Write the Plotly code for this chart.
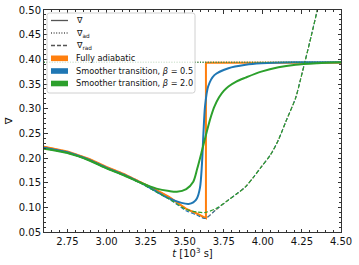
import plotly.graph_objects as go

# ---------------- data ----------------
t_rad = [2.60, 2.75, 2.89, 3.00, 3.11, 3.21, 3.32, 3.40, 3.51, 3.58, 3.63,
         3.70, 3.78, 3.84, 3.89, 3.94, 3.99, 4.05, 4.10, 4.15, 4.21, 4.24, 4.27, 4.31, 4.35, 4.40]
rad_orange = [0.223, 0.213, 0.198, 0.182, 0.168, 0.153, 0.135, 0.121, 0.097, 0.087, 0.078,
              0.095, 0.115, 0.129, 0.142, 0.161, 0.182, 0.207, 0.237, 0.276, 0.322, 0.358,
              0.396, 0.448, 0.502, 0.570]
rad_blue = [0.221, 0.2115, 0.196, 0.180, 0.166, 0.151, 0.131, 0.117, 0.093, 0.084, 0.0775,
            0.095, 0.115, 0.129, 0.142, 0.161, 0.182, 0.207, 0.237, 0.276, 0.322, 0.358,
            0.396, 0.448, 0.502, 0.570]
rad_green = [0.219, 0.210, 0.195, 0.179, 0.165, 0.150, 0.131, 0.117, 0.096, 0.0905, 0.0895,
             0.0975, 0.115, 0.129, 0.142, 0.161, 0.182, 0.207, 0.237, 0.276, 0.322, 0.358,
             0.396, 0.448, 0.502, 0.570]

t_ad = [2.60, 4.50]
ad_orange = [0.394, 0.394]
ad_blue = [0.394, 0.394]
ad_green = [0.394, 0.394]

t_adiab = [2.60, 2.75, 2.89, 3.00, 3.11, 3.21, 3.32, 3.40, 3.51, 3.58, 3.636, 3.636, 3.70, 4.00, 4.50]
nabla_adiab = [0.223, 0.213, 0.198, 0.182, 0.168, 0.153, 0.135, 0.121, 0.097, 0.087, 0.078,
               0.393, 0.393, 0.393, 0.393]

t_b05 = [2.60, 2.75, 2.89, 3.00, 3.11, 3.21, 3.32, 3.40, 3.48, 3.525, 3.555, 3.578, 3.598,
         3.610, 3.620, 3.630, 3.650, 3.690, 3.78, 3.89, 3.99, 4.20, 4.50]
nabla_b05 = [0.221, 0.2115, 0.196, 0.180, 0.166, 0.151, 0.132, 0.118, 0.109, 0.107, 0.110, 0.118,
             0.140, 0.185, 0.250, 0.304, 0.345, 0.368, 0.382, 0.389, 0.392, 0.394, 0.394]

t_b20 = [2.60, 2.75, 2.89, 3.00, 3.11, 3.21, 3.32, 3.40, 3.45, 3.51, 3.555, 3.58, 3.61,
         3.65, 3.67, 3.69, 3.72, 3.75, 3.78, 3.83, 3.89, 3.99, 4.10, 4.21, 4.35, 4.50]
nabla_b20 = [0.219, 0.210, 0.195, 0.179, 0.165, 0.151, 0.138, 0.133, 0.1315, 0.137, 0.152, 0.178,
             0.214, 0.264, 0.286, 0.304, 0.323, 0.336, 0.345, 0.355, 0.363, 0.375, 0.384,
             0.389, 0.392, 0.394]

legend_lines = ["∇", "∇<sub>ad</sub>", "∇<sub>rad</sub>"]
legend_models = ["Fully adiabatic",
                 "Smoother transition, <i>β</i> = 0.5",
                 "Smoother transition, <i>β</i> = 2.0"]

x_range = [2.6, 4.5]
y_range = [0.05, 0.50]

# ---------------- styles ----------------
C_BLUE, C_ORANGE, C_GREEN = "#1f77b4", "#ff7f0e", "#2ca02c"
FONT = "DejaVu Sans"
DASH = "4px,2px"
DOT = "1px,1.6px"

fig = go.Figure()

def add(x, y, color, width, dash="solid", shape="linear"):
    fig.add_trace(go.Scatter(x=x, y=y, mode="lines", showlegend=False, hoverinfo="skip",
                             line=dict(color=color, width=width, dash=dash, shape=shape,
                                       smoothing=0.8 if shape == "spline" else None)))

# fully adiabatic (orange)
add(t_adiab, nabla_adiab, C_ORANGE, 2)
add(t_ad, ad_orange, C_ORANGE, 1.1, DOT)
add(t_rad, rad_orange, C_ORANGE, 1.1, DASH, shape="spline")
# beta = 0.5 (blue)
add(t_b05, nabla_b05, C_BLUE, 2, shape="spline")
add(t_ad, ad_blue, C_BLUE, 1.1, DOT)
add(t_rad, rad_blue, C_BLUE, 1.1, DASH, shape="spline")
# beta = 2.0 (green)
add(t_b20, nabla_b20, C_GREEN, 2, shape="spline")
add(t_ad, ad_green, C_GREEN, 1.1, DOT)
add(t_rad, rad_green, C_GREEN, 1.1, DASH, shape="spline")

# ---------------- legend (drawn in paper coordinates) ----------------
L, T, W, H = 44, 10, 297, 222   # plot area in px
def px(x): return (x - L) / W
def py(y): return (T + H - y) / H

bx0, bx1, by0, by1 = px(47), px(195), py(13), py(93)
rx, ry = 2.5 / W, 2.5 / H
path = (f"M {bx0+rx},{by0} L {bx1-rx},{by0} Q {bx1},{by0} {bx1},{by0-ry} "
        f"L {bx1},{by1+ry} Q {bx1},{by1} {bx1-rx},{by1} "
        f"L {bx0+rx},{by1} Q {bx0},{by1} {bx0},{by1+ry} "
        f"L {bx0},{by0-ry} Q {bx0},{by0} {bx0+rx},{by0} Z")
fig.add_shape(type="path", path=path, xref="paper", yref="paper", layer="above",
              fillcolor="rgba(255,255,255,0.8)", line=dict(color="#d0d0d0", width=1))

rows = [20.5, 33, 45.5, 58.3, 71, 83.5]
hx0, hx1, tx = px(51), px(68), px(73.5)
for r, d in zip(rows[:3], ["solid", DOT, DASH]):
    fig.add_shape(type="line", xref="paper", yref="paper", layer="above",
                  x0=hx0, x1=hx1, y0=py(r), y1=py(r),
                  line=dict(color="#555555", width=1.3, dash=d))
for r, c in zip(rows[3:], [C_ORANGE, C_BLUE, C_GREEN]):
    fig.add_shape(type="rect", xref="paper", yref="paper", layer="above",
                  x0=hx0, x1=hx1, y0=py(r + 2.8), y1=py(r - 2.8),
                  fillcolor=c, line=dict(width=0))
for r, txt in zip(rows, legend_lines + legend_models):
    fig.add_annotation(x=tx, y=py(r), xref="paper", yref="paper", text=txt,
                       showarrow=False, xanchor="left", yanchor="middle",
                       font=dict(family=FONT, size=8.2, color="#111111"))

axis_common = dict(showgrid=False, zeroline=False, showline=True, linecolor="#333333",
                   linewidth=1, mirror="allticks", ticks="inside", ticklen=3.5,
                   tickwidth=0.8, tickcolor="#333333", automargin=False,
                   tickfont=dict(family=FONT, size=10, color="#111111"),
                   tickformat=".2f")

fig.update_layout(
    width=359, height=265,
    margin=dict(l=L, r=359 - L - W, t=T, b=265 - T - H),
    paper_bgcolor="white", plot_bgcolor="white",
    showlegend=False,
    xaxis=dict(range=x_range, dtick=0.25, tick0=0,
               minor=dict(dtick=0.05, ticks="inside", ticklen=2, tickwidth=0.6,
                          tickcolor="#333333", showgrid=False),
               title=dict(text="<i>t</i> [10<sup>3</sup> s]", standoff=2,
                          font=dict(family=FONT, size=10, color="#111111")),
               **axis_common),
    yaxis=dict(range=y_range, dtick=0.05, tick0=0,
               minor=dict(dtick=0.01, ticks="inside", ticklen=2, tickwidth=0.6,
                          tickcolor="#333333", showgrid=False),
               title=dict(text="∇", standoff=4,
                          font=dict(family=FONT, size=10, color="#111111")),
               **axis_common),
)

fig.write_html("out.html", config={"displayModeBar": False},
               post_script="document.body.style.margin='0';document.body.style.padding='0';")
